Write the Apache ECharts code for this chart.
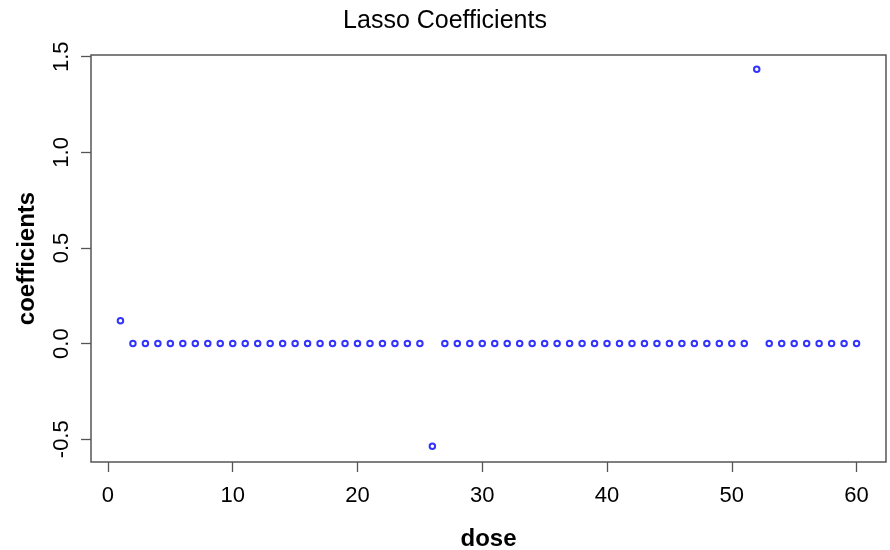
<!DOCTYPE html>
<html>
<head>
<meta charset="utf-8">
<script src="https://cdn.jsdelivr.net/npm/echarts@6/dist/echarts.min.js"></script>
<style>html,body{margin:0;padding:0;background:#fff}#c{width:890px;height:550px}</style>
</head>
<body>
<div id="c"></div>
<script>
const doses = [1,2,3,4,5,6,7,8,9,10,11,12,13,14,15,16,17,18,19,20,21,22,23,24,25,26,27,28,29,30,31,32,33,34,35,36,37,38,39,40,41,42,43,44,45,46,47,48,49,50,51,52,53,54,55,56,57,58,59,60];
const coefficients = [0.12,0,0,0,0,0,0,0,0,0,0,0,0,0,0,0,0,0,0,0,0,0,0,0,0,-0.537,0,0,0,0,0,0,0,0,0,0,0,0,0,0,0,0,0,0,0,0,0,0,0,0,0,1.434,0,0,0,0,0,0,0,0];
const xTicks = [0,10,20,30,40,50,60];
const yTicks = [-0.5,0,0.5,1.0,1.5];

const font = "'Liberation Sans', Arial, Helvetica, sans-serif";
const chart = echarts.init(document.getElementById('c'), null, {renderer:'canvas'});
chart.setOption({
  animation:false,
  backgroundColor:'#fff',
  title:{text:'Lasso Coefficients', left:'center', top:4, textStyle:{fontFamily:font, fontSize:25, fontWeight:'normal', color:'#000'}},
  grid:{left:91, right:4, top:55, bottom:88, containLabel:false, outerBoundsMode:'none', show:true, borderColor:'#555', borderWidth:1.5, backgroundColor:'transparent'},
  xAxis:{type:'value', min:-1.36, max:62.36,
    name:'dose', nameLocation:'middle', nameGap:65,
    nameTextStyle:{fontFamily:font, fontSize:24, fontWeight:'bold', color:'#000'},
    axisLine:{show:false, onZero:false},
    splitLine:{show:false},
    axisTick:{show:true, inside:false, length:10, customValues:xTicks, lineStyle:{color:'#555', width:1.3}},
    axisLabel:{customValues:xTicks, margin:23, fontFamily:font, fontSize:22, color:'#000'}
  },
  yAxis:{type:'value', min:-0.619, max:1.509,
    name:'coefficients', nameLocation:'middle', nameGap:52, nameRotate:90,
    nameTextStyle:{fontFamily:font, fontSize:24, fontWeight:'bold', color:'#000'},
    axisLine:{show:false, onZero:false},
    splitLine:{show:false},
    axisTick:{show:true, inside:false, length:10, customValues:yTicks, lineStyle:{color:'#555', width:1.3}},
    axisLabel:{customValues:yTicks, rotate:90, margin:18, fontFamily:font, fontSize:22, color:'#000',
      formatter:function(v){return v.toFixed(1);}}
  },
  series:[{type:'scatter', data:doses.map((d,i)=>[d,coefficients[i]]),
    symbol:'emptyCircle', symbolSize:5.5,
    itemStyle:{color:'#0000ff', borderColor:'#0000ff', borderWidth:1.3}}]
});
</script>
</body>
</html>
